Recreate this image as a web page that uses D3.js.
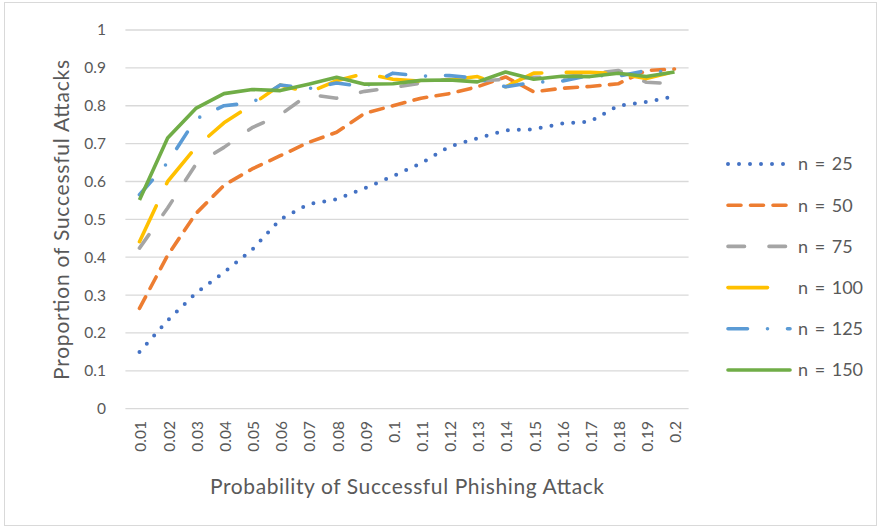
<!DOCTYPE html>
<html>
<head>
<meta charset="utf-8">
<script src="https://cdn.jsdelivr.net/npm/d3@7"></script>
<style>
  html, body { margin: 0; padding: 0; background: #fff; }
  svg { display: block; }
  text { font-family: Lato, "Open Sans", sans-serif; fill: #595959; }
</style>
</head>
<body>
<svg id="chart" width="881" height="529"></svg>
<script>
const categories = ["0.01","0.02","0.03","0.04","0.05","0.06","0.07","0.08","0.09","0.1",
                    "0.11","0.12","0.13","0.14","0.15","0.16","0.17","0.18","0.19","0.2"];
const n25  = [0.15, 0.233, 0.305, 0.36, 0.42, 0.50, 0.54, 0.553, 0.582, 0.614, 0.648, 0.692, 0.714, 0.735, 0.738, 0.753, 0.758, 0.80, 0.81, 0.825];
const n50  = [0.265, 0.405, 0.515, 0.59, 0.633, 0.668, 0.703, 0.73, 0.78, 0.80, 0.82, 0.832, 0.85, 0.876, 0.837, 0.846, 0.851, 0.858, 0.893, 0.897];
const n75  = [0.424, 0.53, 0.645, 0.69, 0.742, 0.776, 0.83, 0.82, 0.838, 0.848, 0.86, 0.87, 0.865, 0.87, 0.875, 0.875, 0.885, 0.893, 0.862, 0.858];
const n100 = [0.441, 0.60, 0.69, 0.755, 0.803, 0.855, 0.835, 0.866, 0.885, 0.87, 0.865, 0.868, 0.877, 0.85, 0.886, 0.888, 0.888, 0.885, 0.872, 0.89];
const n125 = [0.565, 0.65, 0.765, 0.80, 0.808, 0.855, 0.845, 0.86, 0.85, 0.886, 0.878, 0.88, 0.872, 0.85, 0.862, 0.865, 0.88, 0.878, 0.893, 0.888];
const n150 = [0.551, 0.715, 0.793, 0.832, 0.843, 0.84, 0.857, 0.875, 0.857, 0.858, 0.867, 0.868, 0.863, 0.889, 0.870, 0.878, 0.877, 0.886, 0.877, 0.889];
const seriesNames = ["n = 25", "n = 50", "n = 75", "n = 100", "n = 125", "n = 150"];
const seriesValues = [n25, n50, n75, n100, n125, n150];
const yTicks = [0, 0.1, 0.2, 0.3, 0.4, 0.5, 0.6, 0.7, 0.8, 0.9, 1];
const xTitle = "Probability of Successful Phishing Attack";
const yTitle = "Proportion of Successful Attacks";

const styles = [
  { color: "#4472C4", dash: "0,11",            width: 4 },
  { color: "#ED7D31", dash: "13,9.5",          width: 3.6 },
  { color: "#A5A5A5", dash: "16.5,24.5",       width: 3.6 },
  { color: "#FFC000", dash: "39.5,24.5",       width: 3.6 },
  { color: "#5B9BD5", dash: "19.5,20,0,20",    width: 3.6 },
  { color: "#70AD47", dash: null,              width: 3.6 }
];

const svg = d3.select("#chart");

// outer frame
svg.append("rect").attr("x", 4.5).attr("y", 2.5).attr("width", 872).attr("height", 523)
  .attr("fill", "none").attr("stroke", "#d9d9d9").attr("stroke-width", 1);

const x = d3.scaleBand().domain(categories).range([125.4, 688.6]).padding(0);
const y = d3.scaleLinear().domain([0, 1]).range([408.7, 30]);
const cx = c => x(c) + x.bandwidth() / 2;

// gridlines
svg.append("g").selectAll("line").data(yTicks).join("line")
  .attr("x1", x.range()[0]).attr("x2", x.range()[1])
  .attr("y1", d => y(d)).attr("y2", d => y(d))
  .attr("stroke", "#d9d9d9").attr("stroke-width", 1.3);

// y axis labels
const yAxis = d3.axisLeft(y).tickValues(yTicks).tickFormat(d3.format("~g")).tickSize(0).tickPadding(0);
const yg = svg.append("g").attr("transform", "translate(106,0)").call(yAxis);
yg.select(".domain").remove();
yg.selectAll("text").style("font-size", "15.5px").attr("fill", "#595959")
  .style("font-family", "Lato, sans-serif");

// x axis labels (rotated)
const xg = svg.append("g").attr("transform", "translate(0,421)");
xg.selectAll("text").data(categories).join("text")
  .attr("transform", d => `translate(${cx(d) + 1.5},0) rotate(-90)`)
  .attr("text-anchor", "end").attr("dy", "0.35em")
  .style("font-size", "15.5px")
  .text(d => d);

// lines
const line = d3.line().x((d, i) => cx(categories[i])).y(d => y(d));
const lg = svg.append("g");
seriesValues.forEach((vals, k) => {
  const st = styles[k];
  lg.append("path").datum(vals)
    .attr("d", line)
    .attr("fill", "none")
    .attr("stroke", st.color)
    .attr("stroke-width", st.width)
    .attr("stroke-linecap", st.dash ? "round" : "butt")
    .attr("stroke-linejoin", "round")
    .attr("stroke-dasharray", st.dash);
});

// legend
const legendY = d3.scalePoint().domain(seriesNames).range([164, 370]);
const leg = svg.append("g");
seriesNames.forEach((name, k) => {
  const st = styles[k];
  const yy = legendY(name);
  leg.append("line").attr("x1", 728).attr("x2", 790).attr("y1", yy).attr("y2", yy)
    .attr("stroke", st.color).attr("stroke-width", st.width)
    .attr("stroke-linecap", "round")
    .attr("stroke-dasharray", st.dash);
  leg.append("text").attr("x", 798).attr("y", yy).attr("dy", "0.35em")
    .style("font-size", "18px").style("word-spacing", "2px").text(name);
});

// axis titles
svg.append("text").attr("x", 407).attr("y", 494).attr("text-anchor", "middle")
  .style("font-size", "21px")
  .attr("textLength", 394).attr("lengthAdjust", "spacing")
  .text(xTitle);
svg.append("text").attr("transform", "translate(69,220) rotate(-90)")
  .attr("text-anchor", "middle").style("font-size", "21px")
  .attr("textLength", 320).attr("lengthAdjust", "spacing")
  .text(yTitle);
</script>
</body>
</html>
